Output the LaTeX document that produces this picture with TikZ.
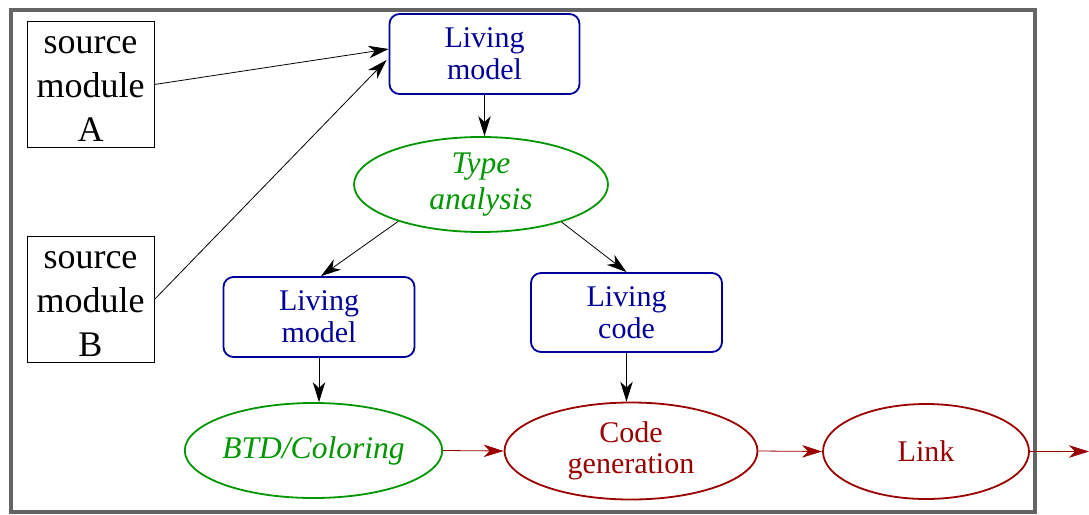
\documentclass[tikz,border=0pt]{standalone}
\usepackage{fontspec}
\setmainfont{Liberation Serif}
\usetikzlibrary{shapes.geometric,arrows.meta}
\definecolor{navy}{RGB}{0,0,153}
\definecolor{dgreen}{RGB}{0,150,0}
\definecolor{dred}{RGB}{153,0,0}
\definecolor{framegray}{RGB}{100,100,100}
\tikzset{
  srcbox/.style={draw=black, line width=0.9pt, minimum width=127pt, minimum height=126pt, inner sep=0pt},
  srctext/.style={align=center, font=\fontsize{36}{44}\selectfont, yshift=-5pt, inner sep=0pt},
  livebox/.style={draw=navy, text=navy, line width=1.8pt, rounded corners=10pt, minimum width=190pt, minimum height=80pt, inner sep=0pt, align=center, font=\fontsize{30}{32}\selectfont},
  greenell/.style={ellipse, draw=dgreen, text=dgreen, line width=1.8pt, inner sep=0pt, align=center, font=\fontsize{31.5}{35.5}\selectfont\itshape},
  redell/.style={ellipse, draw=dred, text=dred, line width=1.8pt, inner sep=0pt, align=center, font=\fontsize{30}{31}\selectfont},
  blkarrow/.style={-{Stealth[length=20pt,width=12.5pt,inset=6pt]}, draw=black, line width=0.8pt},
  redarrow/.style={-{Stealth[length=20pt,width=12.5pt,inset=6pt]}, draw=dred, line width=0.8pt},
}
\begin{document}
\begin{tikzpicture}[x=1pt,y=-1pt]
\useasboundingbox (0,0) rectangle (1089,514);
\draw[framegray, line width=4pt] (11,10) rectangle (1035,512);

\node[srcbox, label={[srctext]center:source\\module\\A}] (srcA) at (90.5,84.5) {};
\node[srcbox, label={[srctext]center:source\\module\\B}] (srcB) at (90.5,299.5) {};
\node[livebox] (lm1) at (484.5,54) {Living\\model};
\node[greenell, minimum width=254pt, minimum height=95pt] (ta) at (481,184.5) {Type\\analysis};
\node[livebox, minimum width=191pt] (lm2) at (319,317) {Living\\model};
\node[livebox, minimum width=191pt, minimum height=79pt] (lc) at (626.5,312.5) {Living\\code};
\node[greenell, minimum width=253pt, minimum height=95pt] (btd) at (313.5,450.5) {BTD/Coloring};
\node[redell, minimum width=253pt, minimum height=97pt] (cg) at (631,451) {Code\\generation};
\node[redell, minimum width=206pt, minimum height=95pt] (link) at (926,451.5) {Link};
\coordinate (out) at (1089,451.5);

\draw[blkarrow] (srcA.east) -- ([yshift=5pt]lm1.west);
\draw[blkarrow] (srcB.east) -- ([yshift=-6pt,xshift=-2pt]lm1.west);
\draw[blkarrow] (lm1.south) -- (lm1.south |- ta.north);
\draw[blkarrow] (ta.204) -- ([xshift=2pt]lm2.north);
\draw[blkarrow] (ta.335) -- (lc.north);
\draw[blkarrow] (lm2.south) -- (lm2.south |- btd.north);
\draw[blkarrow] (lc.south) -- (lc.south |- cg.north);
\draw[redarrow] (btd.east) -- (cg.west);
\draw[redarrow] (cg.east) -- (link.west);
\draw[redarrow] (link.east) -- (out);
\end{tikzpicture}
\end{document}
